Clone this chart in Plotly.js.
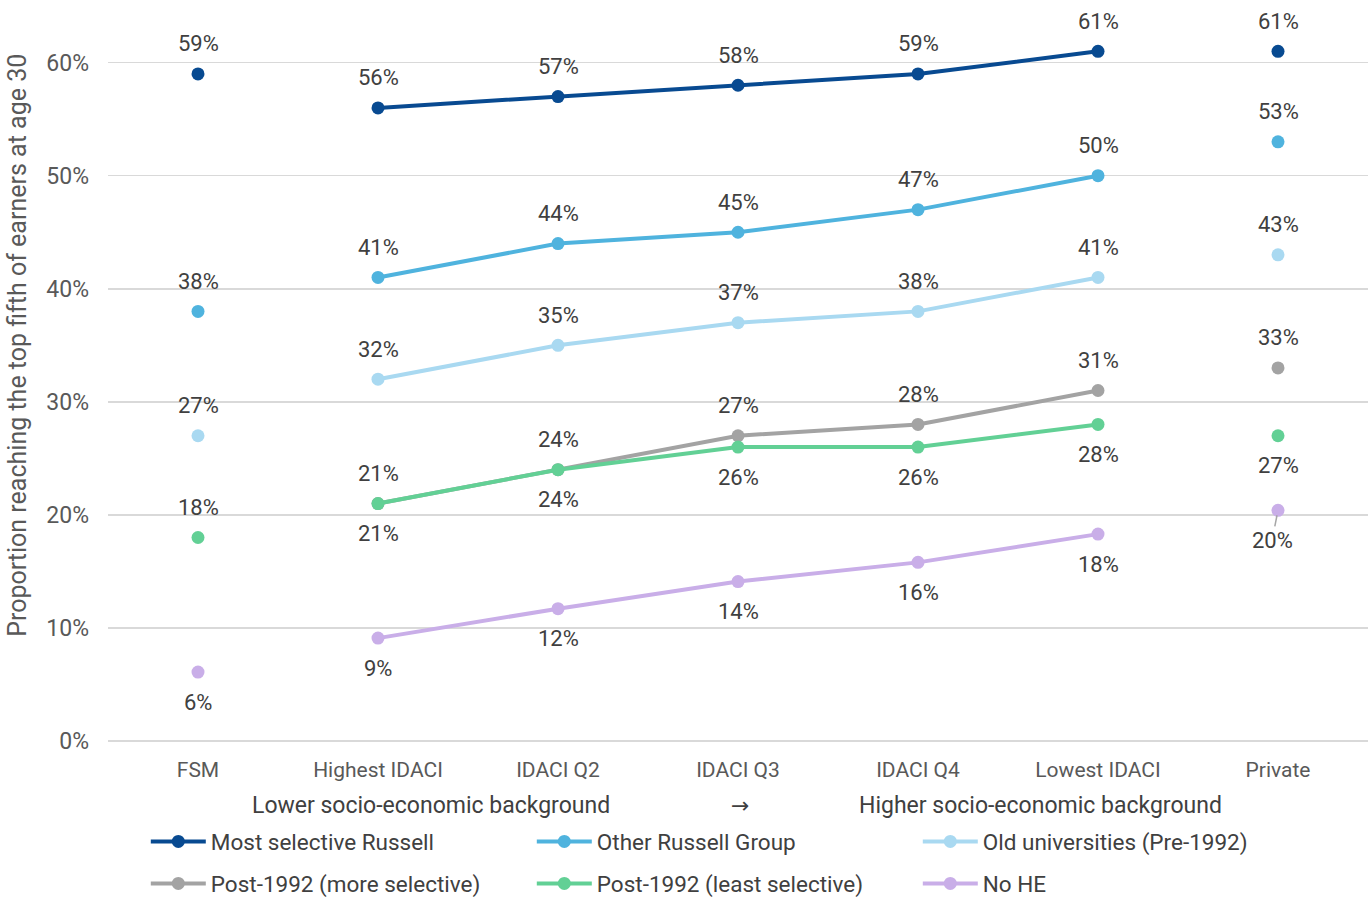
<!DOCTYPE html>
<html><head><meta charset="utf-8">
<script src="https://cdn.plot.ly/plotly-3.0.1.min.js"></script>
<style>body{margin:0;padding:0;background:#fff}#chart{width:1372px;height:897px}</style>
</head><body><div id="chart"></div>
<script>
const categories = ['FSM','Highest IDACI','IDACI Q2','IDACI Q3','IDACI Q4','Lowest IDACI','Private'];
const seriesNames = ['Most selective Russell','Other Russell Group','Old universities (Pre-1992)','Post-1992 (more selective)','Post-1992 (least selective)','No HE'];
const colors = ['#084a91','#4fb3de','#a9d9f1','#a3a3a3','#62d095','#c9aee8'];
const mostSelective = [59,56,57,58,59,61,61];
const otherRussell = [38,41,44,45,47,50,53];
const oldUni = [27,32,35,37,38,41,43];
const post92More = [null,21,24,27,28,31,33];
const post92Least = [18,21,24,26,26,28,27];
const noHE = [6.1,9.1,11.7,14.1,15.8,18.3,20.4];
// label side: 1 above, -1 below
const labelSide = [
  [1,1,1,1,1,1,1],
  [1,1,1,1,1,1,1],
  [1,1,1,1,1,1,1],
  [1,1,1,1,1,1,1],
  [1,-1,-1,-1,-1,-1,-1],
  [-1,-1,-1,-1,-1,-1,-1]
];
const allSeries = [mostSelective, otherRussell, oldUni, post92More, post92Least, noHE];
const FONT = 'Roboto, sans-serif';

const traces = [];
const annotations = [];
allSeries.forEach((vals, s) => {
  const mid = categories.slice(1,6);
  traces.push({
    x: mid, y: vals.slice(1,6), type:'scatter', mode:'lines+markers',
    name: seriesNames[s], line:{color:colors[s], width:4}, marker:{color:colors[s], size:13},
    legend: s < 3 ? 'legend' : 'legend2', hoverinfo:'skip'
  });
  const ex = [], ey = [];
  [0,6].forEach(i => { if (vals[i] !== null) { ex.push(categories[i]); ey.push(vals[i]); } });
  traces.push({
    x: ex, y: ey, type:'scatter', mode:'markers', showlegend:false,
    marker:{color:colors[s], size:13}, hoverinfo:'skip'
  });
  vals.forEach((v, i) => {
    if (v === null) return;
    const a = {
      x: categories[i], y: v, xref:'x', yref:'y', text: Math.round(v) + '%', showarrow:false,
      yshift: 30 * labelSide[s][i], yanchor:'middle',
      font:{family:FONT, size:22, color:'#404040'}
    };
    if (s === 5 && i === 6) {
      Object.assign(a, {showarrow:true, arrowhead:0, arrowwidth:1.5, arrowcolor:'#a6a6a6',
        ax:-6, ay:30, yshift:0, standoff:5});
    }
    annotations.push(a);
  });
});
const titleFont = {family:FONT, size:23, color:'#404040'};
annotations.push(
  {x:1.294, y:-0.087, xref:'x', yref:'paper', yanchor:'middle', text:'Lower socio-economic background', showarrow:false, font:titleFont},
  {x:3.01, y:-0.087, xref:'x', yref:'paper', yanchor:'middle', text:'→', showarrow:false, font:{family:'DejaVu Sans, sans-serif', size:22, color:'#404040'}},
  {x:4.68, y:-0.087, xref:'x', yref:'paper', yanchor:'middle', text:'Higher socio-economic background', showarrow:false, font:titleFont},
  {x:-0.0714, y:0.537, xref:'paper', yref:'paper', xanchor:'center', yanchor:'middle', textangle:-90,
   text:'Proportion reaching the top fifth of earners at age 30', showarrow:false, font:{family:FONT, size:25, color:'#595959'}}
);

const legendBase = {
  orientation:'h', xanchor:'left', yanchor:'middle', itemwidth:55, entrywidth:316,
  font:{family:FONT, size:22.5, color:'#404040'}, bgcolor:'rgba(0,0,0,0)', traceorder:'normal'
};
const layout = {
  width:1372, height:897,
  margin:{l:108, r:4, t:5, b:156, autoexpand:false},
  paper_bgcolor:'#fff', plot_bgcolor:'#fff',
  font:{family:FONT, color:'#595959'},
  xaxis:{type:'category', categoryarray:categories, range:[-0.5,6.5], showgrid:false, zeroline:false,
    showline:false, ticks:'', tickfont:{size:21, color:'#595959'}, ticklabelstandoff:14, fixedrange:true, automargin:false},
  yaxis:{range:[0,65.1], dtick:10, ticksuffix:'%', gridcolor:'#d9d9d9', gridwidth:1.5, zeroline:true,
    zerolinecolor:'#d9d9d9', zerolinewidth:1.5, tickfont:{size:23, color:'#595959'}, ticklabelstandoff:18, automargin:false},
  legend: Object.assign({}, legendBase, {x:0.03, y:-0.137}),
  legend2: Object.assign({}, legendBase, {x:0.03, y:-0.194}),
  annotations: annotations
};
Plotly.newPlot('chart', traces, layout, {displayModeBar:false, staticPlot:true});
</script></body></html>
